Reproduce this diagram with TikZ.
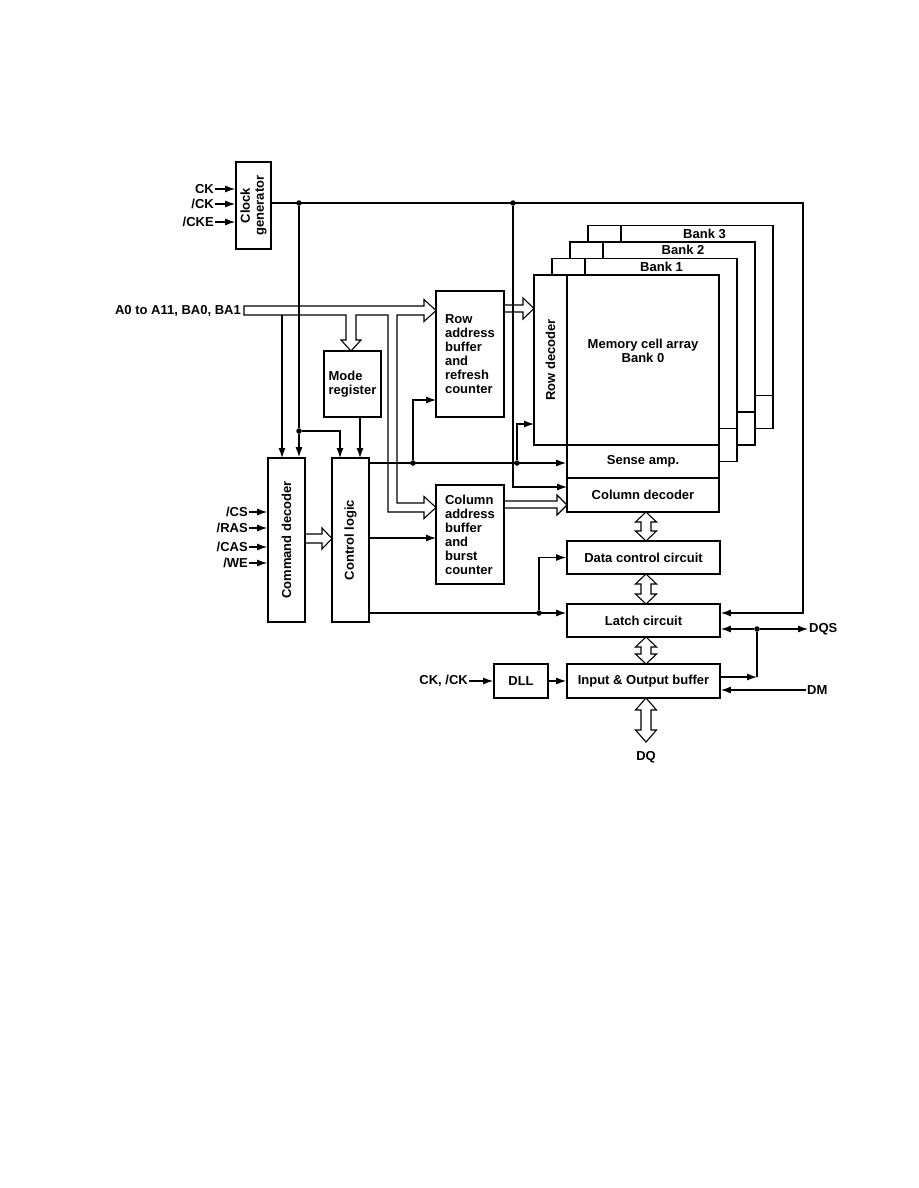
\documentclass[tikz,border=0pt]{standalone}
\usepackage{fontspec}
\setmainfont{Liberation Sans}
\usetikzlibrary{arrows.meta}

\newcommand{\lblfont}{\fontsize{13}{14}\selectfont\bfseries}
% two-headed hollow arrow between stacked blocks: x, top, bottom, head length
\newcommand{\dblpipe}[4]{%
  \draw[pipe, fill=white] (#1,#2) -- (#1+10.5,#2+#4) -- (#1+5,#2+#4) -- (#1+5,#3-#4)
    -- (#1+10.5,#3-#4) -- (#1,#3) -- (#1-10.5,#3-#4) -- (#1-5,#3-#4)
    -- (#1-5,#2+#4) -- (#1-10.5,#2+#4) -- cycle;}

\tikzset{
  box/.style={draw, line width=1.8pt, fill=white, inner sep=0pt, align=center},
  bank/.style={line width=1.8pt},
  wire/.style={line width=1.1pt},
  sig/.style={wire, -{Latex[length=10pt,width=7pt]}},
  pipe/.style={line width=1.1pt, line join=miter},
  jdot/.style={circle, fill, inner sep=0pt, minimum size=5.5pt},
  lbl/.style={inner sep=1pt},
}

\begin{document}
\begin{tikzpicture}[x=1pt, y=-1pt, font=\lblfont]
\useasboundingbox (0,0) rectangle (918,1188);

% banks 3..1 behind bank 0
\foreach \k in {3,2,1} {
  \begin{scope}[shift={(18*\k,-16.5*\k)}]
    \draw[bank, fill=white] (534,275) -- (719,275) -- (719,478) -- (567,478)
      -- (567,445) -- (534,445) -- cycle;
    \draw[bank] (567,275) -- (567,445) -- (719,445);
  \end{scope}
  \node (bank\k) at ({640+21.5*\k},{275-16.5*\k+8}) {Bank \k};
}

% bank 0
\node[box, minimum width=33, minimum height=170] (rowdec) at (550.5,360) {};
\node[rotate=90] (rowdectxt) at (rowdec) {Row decoder};
\node[box, minimum width=152, minimum height=170] (array) at (643,360) {};
\node[align=center] (arraytxt) at (643,351) {Memory cell array\\Bank 0};
\node[box, minimum width=152, minimum height=33] (sense) at (643,461.5) {Sense amp.};
\node[box, minimum width=152, minimum height=34] (coldec) at (643,495) {Column decoder};

% data path
\node[box, minimum width=153, minimum height=33] (datactl) at (643.5,557.5) {Data control circuit};
\node[box, minimum width=153, minimum height=33] (latch) at (643.5,620.5) {Latch circuit};
\node[box, minimum width=153, minimum height=34] (iobuf) at (643.5,681) {Input \& Output buffer};
\node[box, minimum width=54, minimum height=34] (dll) at (521,681) {DLL};

% control side
\node[box, minimum width=35, minimum height=87] (clock) at (253.5,205.5) {};
\node[rotate=90, align=center] (clocktxt) at (clock) {Clock\\generator};
\node[box, minimum width=68, minimum height=126, align=left] (rowbuf) at (470,354) {Row\\address\\buffer\\and\\refresh\\counter};
\node[box, minimum width=57, minimum height=66, align=left] (modereg) at (352.5,384) {Mode\\register};
\node[box, minimum width=37, minimum height=164] (cmd) at (286.5,540) {};
\node[rotate=90] (cmdtxt) at (cmd) {Command decoder};
\node[box, minimum width=37, minimum height=164] (ctrl) at (350.5,540) {};
\node[rotate=90] (ctrltxt) at (ctrl) {Control logic};
\node[box, minimum width=68, minimum height=99, align=left] (colbuf) at (470,534.5) {Column\\address\\buffer\\and\\burst\\counter};

% pins
\foreach \y/\n/\t in {189/ck/{CK}, 204/nck/{/CK}, 222/cke/{/CKE}} {
  \node[lbl, anchor=east] (\n) at (215,\y) {\t};
  \draw[sig] (\n.east) -- (clock.west |- \n.east);
}
\foreach \y/\n/\t in {512/cs/{/CS}, 528/ras/{/RAS}, 547/cas/{/CAS}, 563/we/{/WE}} {
  \node[lbl, anchor=east] (\n) at (249,\y) {\t};
  \draw[sig] (\n.east) -- (cmd.west |- \n.east);
}
\node[lbl, anchor=east] (addr) at (242,310.5) {A0 to A11, BA0, BA1};
\node[lbl, anchor=east] (ckin) at (469,681) {CK, /CK};
\node[lbl, anchor=west] (dqs) at (808,629) {DQS};
\node[lbl, anchor=west] (dm) at (806,690) {DM};
\node (dq) at (646,757) {DQ};

% junctions
\node[jdot] (j1) at (299,203) {};
\node[jdot] (j2) at (513,203) {};
\node[jdot] (j3) at (299,431) {};
\node[jdot] (j4) at (413,463) {};
\node[jdot] (j5) at (517,463) {};
\node[jdot] (j6) at (539,613) {};
\node[jdot] (j7) at (757,629) {};

% clock and control wires
\draw[sig] (clock.east |- j1) -- (803,203) -- (803,613) -- (latch.east |- j6);
\draw[sig] (j1) -- (j3) -- (j3 |- cmd.north);
\draw[sig] (j3) -- (340,431) -- (340,458);
\draw[sig] (j2) -- (513,487) -- (567,487);
\draw[sig] (282,315) -- (282,458);
\draw[sig] (360,417) -- (360,458);
\draw[sig] (ctrl.east |- j4) -- (sense.west |- j4);
\draw[sig] (j4) -- (413,400) -- (436,400);
\draw[sig] (j5) -- (517,424) -- (534,424);
\draw[sig] (369,538) -- (436,538);
\draw[sig] (ctrl.east |- j6) -- (latch.west |- j6);
\draw[sig] (j6) -- (j6 |- datactl.west) -- (datactl.west);
\draw[sig] (ckin.east) -- (dll.west);
\draw[sig] (dll.east) -- (iobuf.west);
\draw[sig] (720,677) -- (757,677);
\draw[wire] (757,677) -- (j7);
\draw[sig] (j7) -- (latch.east |- j7);
\draw[sig] (j7) -- (dqs.west);
\draw[sig] (dm.west) -- (iobuf.east |- dm.west);

% address bus
\draw[pipe] (244,306) -- (424,306) -- (424,299.5) -- (436,310.5) -- (424,321.5) -- (424,315)
  -- (397,315) -- (397,503) -- (424,503) -- (424,496.5) -- (436,507.5) -- (424,518.5)
  -- (424,512) -- (388,512) -- (388,315) -- (356,315) -- (356,340) -- (361,340)
  -- (351,351) -- (341,340) -- (346,340) -- (346,315) -- (244,315) -- cycle;
\draw[pipe] (504,305) -- (523,305) -- (523,298) -- (534,308.5) -- (523,319) -- (523,312) -- (504,312);
\draw[pipe] (305,534) -- (322,534) -- (322,528) -- (332,538.5) -- (322,549) -- (322,543) -- (305,543);
\draw[pipe] (504,501) -- (557,501) -- (557,495) -- (567,505) -- (557,515) -- (557,508) -- (504,508);
\dblpipe{646}{512}{541}{10}
\dblpipe{646}{574}{604}{10}
\dblpipe{646}{637}{664}{10}
\dblpipe{646}{698}{742}{12}
\end{tikzpicture}
\end{document}
